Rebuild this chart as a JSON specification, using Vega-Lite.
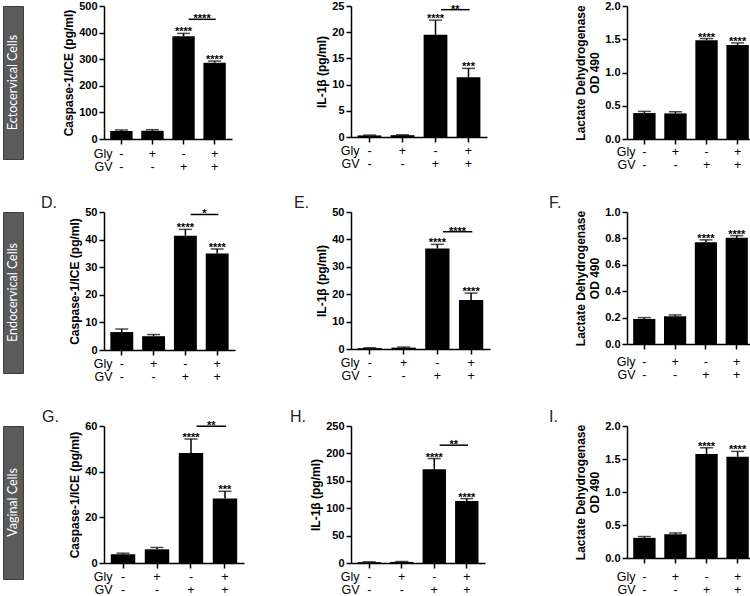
{
"$schema": "https://vega.github.io/schema/vega-lite/v6.json",
"background": "white",
"padding": {"left": 2, "top": 0, "right": 0, "bottom": 0},
"columns": 7,
"bounds": "flush",
"align": {"row": "each", "column": "none"},
"spacing": {"row": 53, "column": 0},
"concat": [
{"width": 20, "height": 153, "view": {"fill": "#5b5b5b", "stroke": "#3c3c3c"}, "data": {"values": [{"label": "Ectocervical Cells"}]}, "mark": {"type": "text", "angle": 270, "color": "#ffffff", "fontSize": 12.5, "font": "Lato"}, "encoding": {"text": {"field": "label"}}},
{"width": 81, "height": 1, "data": {"values": []}, "mark": "point", "encoding": {}},
{"width": 128, "height": 133,
 "data": {"values": [{"cond": "-|-", "mean": 30, "hi": 34, "star": ""}, {"cond": "+|-", "mean": 31, "hi": 35, "star": ""}, {"cond": "-|+", "mean": 386, "hi": 397, "star": "****"}, {"cond": "+|+", "mean": 287, "hi": 293, "star": "****"}]},
 "encoding": {"x": {"field": "cond", "type": "nominal", "scale": {"domain": ["-|-", "+|-", "-|+", "+|+"], "paddingInner": 0.28, "paddingOuter": 0.2}, "axis": {"title": ["Gly", "GV"], "labelExpr": "split(datum.label, '|')", "labelPadding": 3, "titleY": 8}}},
 "layer": [
  {"mark": {"type": "bar", "color": "#000"}, "encoding": {"y": {"field": "mean", "type": "quantitative", "scale": {"domain": [0, 500], "nice": false}, "axis": {"values": [0, 100, 200, 300, 400, 500], "title": "Caspase-1/ICE (pg/ml)"}}}},
  {"mark": {"type": "rule", "color": "#000", "strokeWidth": 1.5}, "encoding": {"y": {"field": "mean", "type": "quantitative", "axis": {"values": [0, 100, 200, 300, 400, 500]}}, "y2": {"field": "hi"}}},
  {"mark": {"type": "tick", "color": "#000", "thickness": 1.5, "size": 13}, "encoding": {"y": {"field": "hi", "type": "quantitative", "axis": {"values": [0, 100, 200, 300, 400, 500]}}}},
  {"mark": {"type": "text", "color": "#000", "fontSize": 11, "fontWeight": "bold", "baseline": "alphabetic", "dy": 2}, "encoding": {"y": {"field": "hi", "type": "quantitative", "axis": {"values": [0, 100, 200, 300, 400, 500]}}, "text": {"field": "star"}}},
  {"data": {"values": [{"cond": "-|+", "to": "+|+", "level": 450, "star": "****"}]},
   "layer": [
    {"mark": {"type": "rule", "color": "#000", "strokeWidth": 1.5}, "encoding": {"x": {"field": "cond", "type": "nominal", "bandPosition": 0.73}, "x2": {"field": "to", "bandPosition": 0.55}, "y": {"field": "level", "type": "quantitative", "axis": {"values": [0, 100, 200, 300, 400, 500]}}}},
    {"mark": {"type": "text", "color": "#000", "fontSize": 11, "fontWeight": "bold", "baseline": "alphabetic", "dy": 3}, "encoding": {"x": {"field": "cond", "type": "nominal", "bandPosition": 1.33}, "y": {"field": "level", "type": "quantitative", "axis": {"values": [0, 100, 200, 300, 400, 500]}}, "text": {"field": "star"}}}
   ]}
 ]},
{"width": 107, "height": 1, "data": {"values": []}, "mark": "point", "encoding": {}},
{"width": 136, "height": 131,
 "data": {"values": [{"cond": "-|-", "mean": 0.3, "hi": 0.36, "star": ""}, {"cond": "+|-", "mean": 0.35, "hi": 0.42, "star": ""}, {"cond": "-|+", "mean": 19.5, "hi": 22.3, "star": "****"}, {"cond": "+|+", "mean": 11.4, "hi": 13.1, "star": "***"}]},
 "encoding": {"x": {"field": "cond", "type": "nominal", "scale": {"domain": ["-|-", "+|-", "-|+", "+|+"], "paddingInner": 0.28, "paddingOuter": 0.2}, "axis": {"title": ["Gly", "GV"], "labelExpr": "split(datum.label, '|')", "labelPadding": 2, "titleY": 7}}},
 "layer": [
  {"mark": {"type": "bar", "color": "#000"}, "encoding": {"y": {"field": "mean", "type": "quantitative", "scale": {"domain": [0, 25], "nice": false}, "axis": {"values": [0, 5, 10, 15, 20, 25], "title": "IL-1β (pg/ml)"}}}},
  {"mark": {"type": "rule", "color": "#000", "strokeWidth": 1.5}, "encoding": {"y": {"field": "mean", "type": "quantitative", "axis": {"values": [0, 5, 10, 15, 20, 25]}}, "y2": {"field": "hi"}}},
  {"mark": {"type": "tick", "color": "#000", "thickness": 1.5, "size": 13}, "encoding": {"y": {"field": "hi", "type": "quantitative", "axis": {"values": [0, 5, 10, 15, 20, 25]}}}},
  {"mark": {"type": "text", "color": "#000", "fontSize": 11, "fontWeight": "bold", "baseline": "alphabetic", "dy": 2}, "encoding": {"y": {"field": "hi", "type": "quantitative", "axis": {"values": [0, 5, 10, 15, 20, 25]}}, "text": {"field": "star"}}},
  {"data": {"values": [{"cond": "-|+", "to": "+|+", "level": 24.3, "star": "**"}]},
   "layer": [
    {"mark": {"type": "rule", "color": "#000", "strokeWidth": 1.5}, "encoding": {"x": {"field": "cond", "type": "nominal", "bandPosition": 0.73}, "x2": {"field": "to", "bandPosition": 0.55}, "y": {"field": "level", "type": "quantitative", "axis": {"values": [0, 5, 10, 15, 20, 25]}}}},
    {"mark": {"type": "text", "color": "#000", "fontSize": 11, "fontWeight": "bold", "baseline": "alphabetic", "dy": 3}, "encoding": {"x": {"field": "cond", "type": "nominal", "bandPosition": 1.33}, "y": {"field": "level", "type": "quantitative", "axis": {"values": [0, 5, 10, 15, 20, 25]}}, "text": {"field": "star"}}}
   ]}
 ]},
{"width": 134, "height": 1, "data": {"values": []}, "mark": "point", "encoding": {}},
{"width": 128, "height": 133,
 "data": {"values": [{"cond": "-|-", "mean": 0.39, "hi": 0.415, "star": ""}, {"cond": "+|-", "mean": 0.385, "hi": 0.41, "star": ""}, {"cond": "-|+", "mean": 1.485, "hi": 1.51, "star": "****"}, {"cond": "+|+", "mean": 1.415, "hi": 1.445, "star": "****"}]},
 "encoding": {"x": {"field": "cond", "type": "nominal", "scale": {"domain": ["-|-", "+|-", "-|+", "+|+"], "paddingInner": 0.28, "paddingOuter": 0.2}, "axis": {"title": ["Gly", "GV"], "labelExpr": "split(datum.label, '|')", "labelPadding": 1, "titleY": 6}}},
 "layer": [
  {"mark": {"type": "bar", "color": "#000"}, "encoding": {"y": {"field": "mean", "type": "quantitative", "scale": {"domain": [0, 2], "nice": false}, "axis": {"values": [0, 0.5, 1, 1.5, 2], "format": ".1f", "title": ["Lactate Dehydrogenase", "OD 490"]}}}},
  {"mark": {"type": "rule", "color": "#000", "strokeWidth": 1.5}, "encoding": {"y": {"field": "mean", "type": "quantitative", "axis": {"values": [0, 0.5, 1, 1.5, 2], "format": ".1f"}}, "y2": {"field": "hi"}}},
  {"mark": {"type": "tick", "color": "#000", "thickness": 1.5, "size": 13}, "encoding": {"y": {"field": "hi", "type": "quantitative", "axis": {"values": [0, 0.5, 1, 1.5, 2], "format": ".1f"}}}},
  {"mark": {"type": "text", "color": "#000", "fontSize": 11, "fontWeight": "bold", "baseline": "alphabetic", "dy": 2}, "encoding": {"y": {"field": "hi", "type": "quantitative", "axis": {"values": [0, 0.5, 1, 1.5, 2], "format": ".1f"}}, "text": {"field": "star"}}}
 ]},
{"width": 20, "height": 161, "view": {"fill": "#5b5b5b", "stroke": "#3c3c3c"}, "data": {"values": [{"label": "Endocervical Cells"}]}, "mark": {"type": "text", "angle": 270, "color": "#ffffff", "fontSize": 12.5, "font": "Lato"}, "encoding": {"text": {"field": "label"}}},
{"width": 76, "height": 1, "data": {"values": []}, "mark": "point", "encoding": {}},
{"width": 131, "height": 138, "title": {"text": "D.", "dx": -63},
 "data": {"values": [{"cond": "-|-", "mean": 6.5, "hi": 7.6, "star": ""}, {"cond": "+|-", "mean": 5.0, "hi": 5.6, "star": ""}, {"cond": "-|+", "mean": 41.4, "hi": 43.7, "star": "****"}, {"cond": "+|+", "mean": 35.0, "hi": 36.6, "star": "****"}]},
 "encoding": {"x": {"field": "cond", "type": "nominal", "scale": {"domain": ["-|-", "+|-", "-|+", "+|+"], "paddingInner": 0.28, "paddingOuter": 0.2}, "axis": {"title": ["Gly", "GV"], "labelExpr": "split(datum.label, '|')", "labelPadding": 2, "titleY": 7}}},
 "layer": [
  {"mark": {"type": "bar", "color": "#000"}, "encoding": {"y": {"field": "mean", "type": "quantitative", "scale": {"domain": [0, 50], "nice": false}, "axis": {"values": [0, 10, 20, 30, 40, 50], "title": "Caspase-1/ICE (pg/ml)"}}}},
  {"mark": {"type": "rule", "color": "#000", "strokeWidth": 1.5}, "encoding": {"y": {"field": "mean", "type": "quantitative", "axis": {"values": [0, 10, 20, 30, 40, 50]}}, "y2": {"field": "hi"}}},
  {"mark": {"type": "tick", "color": "#000", "thickness": 1.5, "size": 13}, "encoding": {"y": {"field": "hi", "type": "quantitative", "axis": {"values": [0, 10, 20, 30, 40, 50]}}}},
  {"mark": {"type": "text", "color": "#000", "fontSize": 11, "fontWeight": "bold", "baseline": "alphabetic", "dy": 2}, "encoding": {"y": {"field": "hi", "type": "quantitative", "axis": {"values": [0, 10, 20, 30, 40, 50]}}, "text": {"field": "star"}}},
  {"data": {"values": [{"cond": "-|+", "to": "+|+", "level": 49.1, "star": "*"}]},
   "layer": [
    {"mark": {"type": "rule", "color": "#000", "strokeWidth": 1.5}, "encoding": {"x": {"field": "cond", "type": "nominal", "bandPosition": 0.73}, "x2": {"field": "to", "bandPosition": 0.55}, "y": {"field": "level", "type": "quantitative", "axis": {"values": [0, 10, 20, 30, 40, 50]}}}},
    {"mark": {"type": "text", "color": "#000", "fontSize": 11, "fontWeight": "bold", "baseline": "alphabetic", "dy": 3}, "encoding": {"x": {"field": "cond", "type": "nominal", "bandPosition": 1.33}, "y": {"field": "level", "type": "quantitative", "axis": {"values": [0, 10, 20, 30, 40, 50]}}, "text": {"field": "star"}}}
   ]}
 ]},
{"width": 102, "height": 1, "data": {"values": []}, "mark": "point", "encoding": {}},
{"width": 139, "height": 137, "title": {"text": "E.", "dx": -57},
 "data": {"values": [{"cond": "-|-", "mean": 0.3, "hi": 0.45, "star": ""}, {"cond": "+|-", "mean": 0.5, "hi": 0.7, "star": ""}, {"cond": "-|+", "mean": 36.7, "hi": 38.2, "star": "****"}, {"cond": "+|+", "mean": 17.9, "hi": 20.4, "star": "****"}]},
 "encoding": {"x": {"field": "cond", "type": "nominal", "scale": {"domain": ["-|-", "+|-", "-|+", "+|+"], "paddingInner": 0.28, "paddingOuter": 0.2}, "axis": {"title": ["Gly", "GV"], "labelExpr": "split(datum.label, '|')", "labelPadding": 2, "titleY": 7}}},
 "layer": [
  {"mark": {"type": "bar", "color": "#000"}, "encoding": {"y": {"field": "mean", "type": "quantitative", "scale": {"domain": [0, 50], "nice": false}, "axis": {"values": [0, 10, 20, 30, 40, 50], "title": "IL-1β (pg/ml)"}}}},
  {"mark": {"type": "rule", "color": "#000", "strokeWidth": 1.5}, "encoding": {"y": {"field": "mean", "type": "quantitative", "axis": {"values": [0, 10, 20, 30, 40, 50]}}, "y2": {"field": "hi"}}},
  {"mark": {"type": "tick", "color": "#000", "thickness": 1.5, "size": 13}, "encoding": {"y": {"field": "hi", "type": "quantitative", "axis": {"values": [0, 10, 20, 30, 40, 50]}}}},
  {"mark": {"type": "text", "color": "#000", "fontSize": 11, "fontWeight": "bold", "baseline": "alphabetic", "dy": 2}, "encoding": {"y": {"field": "hi", "type": "quantitative", "axis": {"values": [0, 10, 20, 30, 40, 50]}}, "text": {"field": "star"}}},
  {"data": {"values": [{"cond": "-|+", "to": "+|+", "level": 42.8, "star": "****"}]},
   "layer": [
    {"mark": {"type": "rule", "color": "#000", "strokeWidth": 1.5}, "encoding": {"x": {"field": "cond", "type": "nominal", "bandPosition": 0.73}, "x2": {"field": "to", "bandPosition": 0.55}, "y": {"field": "level", "type": "quantitative", "axis": {"values": [0, 10, 20, 30, 40, 50]}}}},
    {"mark": {"type": "text", "color": "#000", "fontSize": 11, "fontWeight": "bold", "baseline": "alphabetic", "dy": 3}, "encoding": {"x": {"field": "cond", "type": "nominal", "bandPosition": 1.33}, "y": {"field": "level", "type": "quantitative", "axis": {"values": [0, 10, 20, 30, 40, 50]}}, "text": {"field": "star"}}}
   ]}
 ]},
{"width": 137, "height": 1, "data": {"values": []}, "mark": "point", "encoding": {}},
{"width": 127, "height": 132, "title": {"text": "F.", "dx": -78},
 "data": {"values": [{"cond": "-|-", "mean": 0.19, "hi": 0.2, "star": ""}, {"cond": "+|-", "mean": 0.21, "hi": 0.22, "star": ""}, {"cond": "-|+", "mean": 0.771, "hi": 0.789, "star": "****"}, {"cond": "+|+", "mean": 0.804, "hi": 0.821, "star": "****"}]},
 "encoding": {"x": {"field": "cond", "type": "nominal", "scale": {"domain": ["-|-", "+|-", "-|+", "+|+"], "paddingInner": 0.28, "paddingOuter": 0.2}, "axis": {"title": ["Gly", "GV"], "labelExpr": "split(datum.label, '|')", "labelPadding": 6, "titleY": 11}}},
 "layer": [
  {"mark": {"type": "bar", "color": "#000"}, "encoding": {"y": {"field": "mean", "type": "quantitative", "scale": {"domain": [0, 1], "nice": false}, "axis": {"values": [0, 0.2, 0.4, 0.6, 0.8, 1], "format": ".1f", "title": ["Lactate Dehydrogenase", "OD 490"]}}}},
  {"mark": {"type": "rule", "color": "#000", "strokeWidth": 1.5}, "encoding": {"y": {"field": "mean", "type": "quantitative", "axis": {"values": [0, 0.2, 0.4, 0.6, 0.8, 1], "format": ".1f"}}, "y2": {"field": "hi"}}},
  {"mark": {"type": "tick", "color": "#000", "thickness": 1.5, "size": 13}, "encoding": {"y": {"field": "hi", "type": "quantitative", "axis": {"values": [0, 0.2, 0.4, 0.6, 0.8, 1], "format": ".1f"}}}},
  {"mark": {"type": "text", "color": "#000", "fontSize": 11, "fontWeight": "bold", "baseline": "alphabetic", "dy": 2}, "encoding": {"y": {"field": "hi", "type": "quantitative", "axis": {"values": [0, 0.2, 0.4, 0.6, 0.8, 1], "format": ".1f"}}, "text": {"field": "star"}}}
 ]},
{"width": 20, "height": 153, "view": {"fill": "#5b5b5b", "stroke": "#3c3c3c"}, "data": {"values": [{"label": "Vaginal Cells"}]}, "mark": {"type": "text", "angle": 270, "color": "#ffffff", "fontSize": 12.5, "font": "Lato"}, "encoding": {"text": {"field": "label"}}},
{"width": 81, "height": 1, "data": {"values": []}, "mark": "point", "encoding": {}},
{"width": 140, "height": 137, "title": {"text": "G.", "dx": -62},
 "data": {"values": [{"cond": "-|-", "mean": 3.8, "hi": 4.3, "star": ""}, {"cond": "+|-", "mean": 6.0, "hi": 6.8, "star": ""}, {"cond": "-|+", "mean": 48.2, "hi": 54.3, "star": "****"}, {"cond": "+|+", "mean": 28.2, "hi": 31.4, "star": "***"}]},
 "encoding": {"x": {"field": "cond", "type": "nominal", "scale": {"domain": ["-|-", "+|-", "-|+", "+|+"], "paddingInner": 0.28, "paddingOuter": 0.2}, "axis": {"title": ["Gly", "GV"], "labelExpr": "split(datum.label, '|')", "labelPadding": 2, "titleY": 7}}},
 "layer": [
  {"mark": {"type": "bar", "color": "#000"}, "encoding": {"y": {"field": "mean", "type": "quantitative", "scale": {"domain": [0, 60], "nice": false}, "axis": {"values": [0, 20, 40, 60], "title": "Caspase-1/ICE (pg/ml)"}}}},
  {"mark": {"type": "rule", "color": "#000", "strokeWidth": 1.5}, "encoding": {"y": {"field": "mean", "type": "quantitative", "axis": {"values": [0, 20, 40, 60]}}, "y2": {"field": "hi"}}},
  {"mark": {"type": "tick", "color": "#000", "thickness": 1.5, "size": 13}, "encoding": {"y": {"field": "hi", "type": "quantitative", "axis": {"values": [0, 20, 40, 60]}}}},
  {"mark": {"type": "text", "color": "#000", "fontSize": 11, "fontWeight": "bold", "baseline": "alphabetic", "dy": 2}, "encoding": {"y": {"field": "hi", "type": "quantitative", "axis": {"values": [0, 20, 40, 60]}}, "text": {"field": "star"}}},
  {"data": {"values": [{"cond": "-|+", "to": "+|+", "level": 59.9, "star": "**"}]},
   "layer": [
    {"mark": {"type": "rule", "color": "#000", "strokeWidth": 1.5}, "encoding": {"x": {"field": "cond", "type": "nominal", "bandPosition": 0.73}, "x2": {"field": "to", "bandPosition": 0.55}, "y": {"field": "level", "type": "quantitative", "axis": {"values": [0, 20, 40, 60]}}}},
    {"mark": {"type": "text", "color": "#000", "fontSize": 11, "fontWeight": "bold", "baseline": "alphabetic", "dy": 3}, "encoding": {"x": {"field": "cond", "type": "nominal", "bandPosition": 1.33}, "y": {"field": "level", "type": "quantitative", "axis": {"values": [0, 20, 40, 60]}}, "text": {"field": "star"}}}
   ]}
 ]},
{"width": 99, "height": 1, "data": {"values": []}, "mark": "point", "encoding": {}},
{"width": 134, "height": 137, "title": {"text": "H.", "dx": -61},
 "data": {"values": [{"cond": "-|-", "mean": 1.5, "hi": 2.2, "star": ""}, {"cond": "+|-", "mean": 2.0, "hi": 2.7, "star": ""}, {"cond": "-|+", "mean": 171, "hi": 190.6, "star": "****"}, {"cond": "+|+", "mean": 113, "hi": 117.5, "star": "****"}]},
 "encoding": {"x": {"field": "cond", "type": "nominal", "scale": {"domain": ["-|-", "+|-", "-|+", "+|+"], "paddingInner": 0.28, "paddingOuter": 0.2}, "axis": {"title": ["Gly", "GV"], "labelExpr": "split(datum.label, '|')", "labelPadding": 2, "titleY": 7}}},
 "layer": [
  {"mark": {"type": "bar", "color": "#000"}, "encoding": {"y": {"field": "mean", "type": "quantitative", "scale": {"domain": [0, 250], "nice": false}, "axis": {"values": [0, 50, 100, 150, 200, 250], "title": "IL-1β (pg/ml)"}}}},
  {"mark": {"type": "rule", "color": "#000", "strokeWidth": 1.5}, "encoding": {"y": {"field": "mean", "type": "quantitative", "axis": {"values": [0, 50, 100, 150, 200, 250]}}, "y2": {"field": "hi"}}},
  {"mark": {"type": "tick", "color": "#000", "thickness": 1.5, "size": 13}, "encoding": {"y": {"field": "hi", "type": "quantitative", "axis": {"values": [0, 50, 100, 150, 200, 250]}}}},
  {"mark": {"type": "text", "color": "#000", "fontSize": 11, "fontWeight": "bold", "baseline": "alphabetic", "dy": 2}, "encoding": {"y": {"field": "hi", "type": "quantitative", "axis": {"values": [0, 50, 100, 150, 200, 250]}}, "text": {"field": "star"}}},
  {"data": {"values": [{"cond": "-|+", "to": "+|+", "level": 215, "star": "**"}]},
   "layer": [
    {"mark": {"type": "rule", "color": "#000", "strokeWidth": 1.5}, "encoding": {"x": {"field": "cond", "type": "nominal", "bandPosition": 0.73}, "x2": {"field": "to", "bandPosition": 0.55}, "y": {"field": "level", "type": "quantitative", "axis": {"values": [0, 50, 100, 150, 200, 250]}}}},
    {"mark": {"type": "text", "color": "#000", "fontSize": 11, "fontWeight": "bold", "baseline": "alphabetic", "dy": 3}, "encoding": {"x": {"field": "cond", "type": "nominal", "bandPosition": 1.33}, "y": {"field": "level", "type": "quantitative", "axis": {"values": [0, 50, 100, 150, 200, 250]}}, "text": {"field": "star"}}}
   ]}
 ]},
{"width": 130, "height": 1, "data": {"values": []}, "mark": "point", "encoding": {}},
{"width": 128, "height": 132, "title": {"text": "I.", "dx": -78},
 "data": {"values": [{"cond": "-|-", "mean": 0.305, "hi": 0.325, "star": ""}, {"cond": "+|-", "mean": 0.36, "hi": 0.38, "star": ""}, {"cond": "-|+", "mean": 1.575, "hi": 1.67, "star": "****"}, {"cond": "+|+", "mean": 1.535, "hi": 1.615, "star": "****"}]},
 "encoding": {"x": {"field": "cond", "type": "nominal", "scale": {"domain": ["-|-", "+|-", "-|+", "+|+"], "paddingInner": 0.28, "paddingOuter": 0.2}, "axis": {"title": ["Gly", "GV"], "labelExpr": "split(datum.label, '|')", "labelPadding": 7, "titleY": 12}}},
 "layer": [
  {"mark": {"type": "bar", "color": "#000"}, "encoding": {"y": {"field": "mean", "type": "quantitative", "scale": {"domain": [0, 2], "nice": false}, "axis": {"values": [0, 0.5, 1, 1.5, 2], "format": ".1f", "title": ["Lactate Dehydrogenase", "OD 490"]}}}},
  {"mark": {"type": "rule", "color": "#000", "strokeWidth": 1.5}, "encoding": {"y": {"field": "mean", "type": "quantitative", "axis": {"values": [0, 0.5, 1, 1.5, 2], "format": ".1f"}}, "y2": {"field": "hi"}}},
  {"mark": {"type": "tick", "color": "#000", "thickness": 1.5, "size": 13}, "encoding": {"y": {"field": "hi", "type": "quantitative", "axis": {"values": [0, 0.5, 1, 1.5, 2], "format": ".1f"}}}},
  {"mark": {"type": "text", "color": "#000", "fontSize": 11, "fontWeight": "bold", "baseline": "alphabetic", "dy": 2}, "encoding": {"y": {"field": "hi", "type": "quantitative", "axis": {"values": [0, 0.5, 1, 1.5, 2], "format": ".1f"}}, "text": {"field": "star"}}}
 ]}
],
"config": {
 "font": "Liberation Sans",
 "view": {"stroke": null},
 "axis": {"grid": false, "domainColor": "#000", "domainWidth": 1.5, "tickColor": "#000", "tickWidth": 1.5, "tickSize": 5, "labelColor": "#000", "titleColor": "#000", "labelFont": "Liberation Sans", "titleFont": "Liberation Sans"},
 "axisY": {"labelFontSize": 11, "labelFontWeight": "bold", "labelPadding": 2, "labelOverlap": false, "titleFontSize": 12, "titleFontWeight": "bold", "titlePadding": 3},
 "axisX": {"labelFontSize": 12.5, "labelAngle": 0, "labelBaseline": "top", "labelLineHeight": 13.5, "titleFontSize": 12.5, "titleFontWeight": "normal", "titleAngle": 0, "titleAlign": "right", "titleBaseline": "top", "titleLineHeight": 13.5, "titleX": 8},
 "title": {"fontSize": 16, "fontWeight": "normal", "anchor": "start", "frame": "group", "color": "#222", "font": "Liberation Sans", "baseline": "bottom", "offset": -5}
}
}
